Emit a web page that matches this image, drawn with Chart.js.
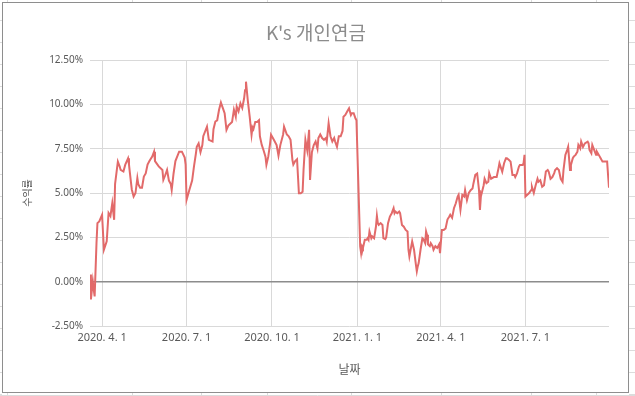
<!DOCTYPE html>
<html><head><meta charset="utf-8">
<script src="https://cdn.jsdelivr.net/npm/chart.js@4/dist/chart.umd.min.js"></script>
<style>html,body{margin:0;padding:0;background:#fff;overflow:hidden}canvas{display:block}</style>
</head><body><canvas id="c" width="635" height="396"></canvas>
<script>
const chartTitle = "K's 개인연금";
const xAxisTitle = '날짜';
const yAxisTitle = '수익률';
const xTickDates = ['2020-04-01','2020-07-01','2020-10-01','2021-01-01','2021-04-01','2021-07-01'];
const yTickValues = [-2.5, 0, 2.5, 5, 7.5, 10, 12.5];

const dates = [
'2020-03-19','2020-03-20','2020-03-22','2020-03-23','2020-03-24','2020-03-26','2020-03-27','2020-03-29',
'2020-04-01','2020-04-03','2020-04-06','2020-04-08','2020-04-10','2020-04-12','2020-04-14','2020-04-15',
'2020-04-18','2020-04-20','2020-04-21','2020-04-24','2020-04-26','2020-04-29','2020-04-30',
'2020-05-01','2020-05-03','2020-05-05','2020-05-07','2020-05-09','2020-05-10','2020-05-12','2020-05-14',
'2020-05-16','2020-05-18','2020-05-20','2020-05-22','2020-05-25','2020-05-27','2020-05-28',
'2020-06-01','2020-06-05','2020-06-06','2020-06-08','2020-06-10','2020-06-12','2020-06-14','2020-06-15',
'2020-06-17','2020-06-19','2020-06-23','2020-06-26','2020-06-29','2020-06-30',
'2020-07-01','2020-07-04','2020-07-07','2020-07-09','2020-07-11','2020-07-12','2020-07-14','2020-07-16',
'2020-07-18','2020-07-19','2020-07-23','2020-07-25','2020-07-29','2020-07-30',
'2020-08-01','2020-08-03','2020-08-05','2020-08-07','2020-08-09','2020-08-11','2020-08-13','2020-08-15',
'2020-08-17','2020-08-19','2020-08-21','2020-08-23','2020-08-24','2020-08-26','2020-08-28','2020-08-30',
'2020-09-01','2020-09-02','2020-09-03','2020-09-05','2020-09-07','2020-09-09','2020-09-10','2020-09-11',
'2020-09-13','2020-09-15','2020-09-17','2020-09-18','2020-09-20','2020-09-22','2020-09-24','2020-09-25',
'2020-09-27','2020-09-29','2020-09-30',
'2020-10-03','2020-10-06','2020-10-08','2020-10-10','2020-10-13','2020-10-14','2020-10-17','2020-10-19',
'2020-10-21','2020-10-23','2020-10-24','2020-10-26','2020-10-28','2020-10-30',
'2020-11-01','2020-11-03','2020-11-04','2020-11-06','2020-11-08','2020-11-10','2020-11-11','2020-11-13',
'2020-11-15','2020-11-17','2020-11-19','2020-11-20','2020-11-22','2020-11-24','2020-11-26','2020-11-28','2020-11-29',
'2020-12-01','2020-12-03','2020-12-05','2020-12-07','2020-12-08','2020-12-10','2020-12-12','2020-12-14',
'2020-12-16','2020-12-17','2020-12-19','2020-12-21','2020-12-23','2020-12-25','2020-12-26','2020-12-28',
'2020-12-30','2020-12-31',
'2021-01-04','2021-01-05','2021-01-06','2021-01-07','2021-01-09','2021-01-11','2021-01-12','2021-01-13',
'2021-01-14','2021-01-16','2021-01-17','2021-01-19','2021-01-21','2021-01-22','2021-01-23','2021-01-24',
'2021-01-26','2021-01-28','2021-01-29','2021-01-31',
'2021-02-01','2021-02-03','2021-02-05','2021-02-07','2021-02-09','2021-02-10','2021-02-11','2021-02-13',
'2021-02-15','2021-02-16','2021-02-18','2021-02-20','2021-02-22','2021-02-24','2021-02-25','2021-02-26','2021-02-28',
'2021-03-01','2021-03-03','2021-03-05','2021-03-06','2021-03-07','2021-03-08','2021-03-10','2021-03-12',
'2021-03-13','2021-03-15','2021-03-16','2021-03-17','2021-03-18','2021-03-20','2021-03-21','2021-03-23',
'2021-03-24','2021-03-26','2021-03-28','2021-03-30','2021-03-31',
'2021-04-02','2021-04-04','2021-04-06','2021-04-08','2021-04-10','2021-04-11','2021-04-13','2021-04-15',
'2021-04-17','2021-04-19','2021-04-20','2021-04-22','2021-04-24','2021-04-26','2021-04-27','2021-04-29',
'2021-05-01','2021-05-03','2021-05-05','2021-05-06','2021-05-08','2021-05-10','2021-05-12','2021-05-13',
'2021-05-14','2021-05-17','2021-05-18','2021-05-20','2021-05-22','2021-05-23','2021-05-25','2021-05-28','2021-05-31',
'2021-06-02','2021-06-03','2021-06-06','2021-06-08','2021-06-10','2021-06-11','2021-06-13','2021-06-15',
'2021-06-17','2021-06-19','2021-06-20','2021-06-22','2021-06-24','2021-06-25','2021-06-28','2021-06-29','2021-06-30',
'2021-07-01','2021-07-05','2021-07-07','2021-07-08','2021-07-10','2021-07-12','2021-07-14','2021-07-15',
'2021-07-17','2021-07-19','2021-07-21','2021-07-23','2021-07-25','2021-07-26','2021-07-28','2021-07-30',
'2021-08-01','2021-08-02','2021-08-04','2021-08-06','2021-08-08','2021-08-10','2021-08-11','2021-08-13',
'2021-08-15','2021-08-16','2021-08-18','2021-08-19','2021-08-21','2021-08-22','2021-08-24','2021-08-26',
'2021-08-27','2021-08-29','2021-08-30',
'2021-09-01','2021-09-03','2021-09-06','2021-09-07','2021-09-08','2021-09-10','2021-09-11','2021-09-13',
'2021-09-15','2021-09-16','2021-09-18','2021-09-20','2021-09-22','2021-09-25','2021-09-27','2021-09-28','2021-09-29'
];

const returns = [
0.40,-1.00,0.02,-0.45,-0.83,2.18,3.30,3.40,
3.77,1.80,2.27,3.87,3.70,4.43,3.49,5.50,
6.77,6.49,6.30,6.21,6.60,6.96,6.60,
6.12,5.20,4.80,5.00,5.84,5.50,5.30,5.30,
5.93,6.10,6.60,6.80,7.05,7.33,6.80,
6.50,6.30,5.74,6.00,6.30,5.70,5.50,5.17,
6.10,6.80,7.33,7.33,7.00,6.60,
4.61,5.17,5.70,6.50,7.20,7.60,7.80,7.30,
7.70,8.20,8.74,8.00,7.90,8.60,
9.03,9.10,9.69,10.10,9.80,9.50,8.56,8.80,
8.90,9.00,9.70,9.30,9.87,9.60,10.06,9.80,
10.34,10.80,11.28,10.20,9.31,8.28,8.70,8.60,
9.00,9.00,9.10,8.20,7.71,7.40,7.05,6.59,
7.05,7.80,8.28,
8.00,7.70,7.10,7.70,8.30,8.74,8.30,8.20,
8.00,6.87,6.60,6.80,6.90,4.98,
4.98,5.07,6.30,8.00,7.40,8.56,5.74,7.30,
7.70,7.90,7.50,8.10,8.30,8.10,8.00,8.10,7.90,
8.93,8.20,7.90,8.10,7.90,7.60,8.20,8.20,
8.50,9.30,9.40,9.60,9.78,9.40,9.50,9.50,
9.20,9.10,
1.99,1.61,2.00,1.90,2.36,2.36,2.45,2.36,
2.83,2.45,2.55,2.45,3.11,3.71,3.30,3.20,
3.30,3.20,2.45,2.40,
2.50,3.30,3.67,3.86,4.14,3.86,3.95,3.86,
3.95,3.86,3.20,3.10,2.92,2.83,1.80,1.42,1.99,
2.27,1.80,0.96,0.58,0.86,1.05,1.80,2.45,
2.40,2.17,2.83,2.64,2.10,2.00,2.17,2.00,
1.80,2.00,1.90,2.10,1.61,
2.92,2.92,3.00,3.50,3.67,3.77,3.60,4.14,
4.42,4.80,4.90,4.05,4.90,4.80,5.16,4.60,
5.00,5.16,5.25,5.54,6.02,6.10,5.16,4.05,
4.80,5.44,5.80,5.55,5.63,6.12,5.80,5.90,5.90,
6.40,6.68,6.20,6.68,6.96,6.96,6.87,6.77,
6.02,6.02,5.90,6.12,6.49,6.58,6.58,6.68,7.15,
4.80,5.00,5.16,5.35,5.00,5.44,5.80,5.63,
5.72,5.35,5.44,6.21,6.30,6.21,5.80,5.90,
6.12,6.30,6.40,6.30,5.80,5.63,6.30,7.15,
7.43,7.60,6.30,6.58,6.96,7.05,7.15,7.33,
7.71,7.52,7.90,
7.60,7.80,7.90,7.80,7.43,7.24,7.71,7.43,
7.15,7.33,7.15,6.96,6.77,6.77,6.77,6.00,5.30
];

const DAY = 86400000;
const toDay = s => Date.UTC(+s.slice(0,4), +s.slice(5,7) - 1, +s.slice(8,10)) / DAY;
const fmtDay = v => { const d = new Date(v * DAY); return d.getUTCFullYear() + '. ' + (d.getUTCMonth() + 1) + '. ' + d.getUTCDate(); };

const points = dates.map((d, i) => ({ x: toDay(d), y: returns[i] }));

const sheetBackground = {
  id: 'sheetBackground',
  beforeDraw(chart) {
    const ctx = chart.ctx, W = chart.width, H = chart.height;
    ctx.save();
    ctx.fillStyle = '#ffffff';
    ctx.fillRect(0, 0, W, H);
    ctx.strokeStyle = '#dcdcdc';
    ctx.lineWidth = 1;
    ctx.beginPath();
    for (let y = 20.5; y < H; y += 22) { ctx.moveTo(629, y); ctx.lineTo(W, y); ctx.moveTo(0, y); ctx.lineTo(2, y); }
    [7, 132, 201, 267, 351, 441, 531, 596].forEach(x => { ctx.moveTo(x + 0.5, 0); ctx.lineTo(x + 0.5, 2); ctx.moveTo(x + 0.5, 393); ctx.lineTo(x + 0.5, H); });
    ctx.moveTo(0, 395.5); ctx.lineTo(W, 395.5);
    ctx.stroke();
    ctx.strokeStyle = '#8e8e8e';
    ctx.strokeRect(2.5, 2.5, 626, 390);
    ctx.restore();
  }
};

new Chart(document.getElementById('c'), {
  type: 'line',
  data: {
    datasets: [{
      label: chartTitle,
      data: points,
      borderColor: 'rgb(226,106,106)',
      borderWidth: 2,
      pointRadius: 0,
      tension: 0,
      fill: false
    }]
  },
  options: {
    responsive: false,
    animation: false,
    devicePixelRatio: 1,
    layout: { padding: { left: 3, right: 6, top: 3, bottom: 3 } },
    plugins: {
      legend: { display: false },
      tooltip: { enabled: false },
      title: {
        display: true, text: chartTitle, color: '#8c8c8c',
        font: { family: "'Noto Sans CJK KR', 'Noto Sans', sans-serif", size: 19, weight: 'normal' },
        padding: { top: 18.4, bottom: 15.8 }
      }
    },
    scales: {
      x: {
        type: 'linear',
        min: toDay(dates[0]),
        max: toDay(dates[dates.length - 1]),
        afterBuildTicks: s => { s.ticks = xTickDates.map(d => ({ value: toDay(d) })); },
        afterFit: s => { s.height = 67; },
        ticks: {
          callback: v => fmtDay(v), autoSkip: false, maxRotation: 0, padding: 5,
          color: '#595959', font: { family: "'Noto Sans', sans-serif", size: 11 }
        },
        grid: { color: '#d9d9d9', lineWidth: 1, drawTicks: false },
        border: { display: false },
        title: {
          display: true, text: xAxisTitle, color: '#595959',
          font: { family: "'Noto Sans CJK KR', sans-serif", size: 12 },
          padding: { top: 0, bottom: 16.8 }
        }
      },
      y: {
        min: -2.5, max: 12.5,
        afterBuildTicks: s => { s.ticks = yTickValues.map(v => ({ value: v })); },
        afterFit: s => { s.width = 87; },
        ticks: {
          callback: v => v.toFixed(2) + '%', padding: 7,
          color: '#595959', font: { family: "'Noto Sans', sans-serif", size: 10 }
        },
        grid: {
          color: c => (c.tick && c.tick.value === 0) ? '#8c8c8c' : '#d9d9d9',
          lineWidth: c => (c.tick && c.tick.value === 0) ? 1.5 : 1,
          drawTicks: false
        },
        border: { display: false },
        title: {
          display: true, text: yAxisTitle, color: '#595959',
          font: { family: "'Noto Sans CJK KR', sans-serif", size: 10 },
          padding: { top: 18, bottom: 0 }
        }
      },
      y2: {
        position: 'right',
        display: true,
        afterFit: s => { s.width = 20; },
        ticks: { display: false },
        grid: { display: false, drawTicks: false },
        border: { display: false }
      }
    }
  },
  plugins: [sheetBackground]
});
</script>
</body></html>
